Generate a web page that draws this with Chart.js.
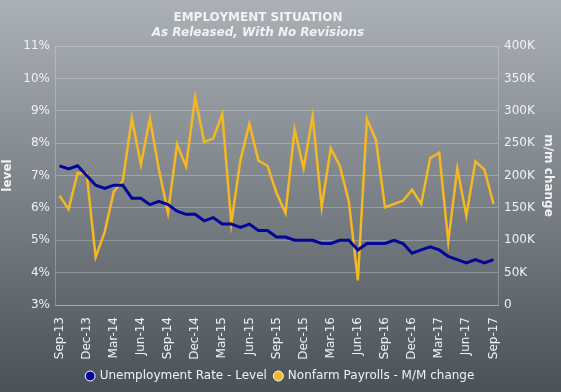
<!DOCTYPE html>
<html>
<head>
<meta charset="utf-8">
<script src="https://cdn.jsdelivr.net/npm/chart.js@4/dist/chart.umd.min.js"></script>
<style>
  html, body { margin: 0; padding: 0; }
  body { width: 561px; height: 392px; background: linear-gradient(#abb1b7, #4a5157); overflow: hidden; }
  canvas { display: block; }
</style>
</head>
<body>
<canvas id="c" width="561" height="392"></canvas>
<script>
const categories = [
  'Sep-13','Oct-13','Nov-13','Dec-13','Jan-14','Feb-14','Mar-14','Apr-14','May-14','Jun-14','Jul-14','Aug-14',
  'Sep-14','Oct-14','Nov-14','Dec-14','Jan-15','Feb-15','Mar-15','Apr-15','May-15','Jun-15','Jul-15','Aug-15',
  'Sep-15','Oct-15','Nov-15','Dec-15','Jan-16','Feb-16','Mar-16','Apr-16','May-16','Jun-16','Jul-16','Aug-16',
  'Sep-16','Oct-16','Nov-16','Dec-16','Jan-17','Feb-17','Mar-17','Apr-17','May-17','Jun-17','Jul-17','Aug-17',
  'Sep-17'
];
const unemploymentRate = [
  7.3, 7.2, 7.3, 7.0, 6.7, 6.6, 6.7, 6.7, 6.3, 6.3, 6.1, 6.2,
  6.1, 5.9, 5.8, 5.8, 5.6, 5.7, 5.5, 5.5, 5.4, 5.5, 5.3, 5.3,
  5.1, 5.1, 5.0, 5.0, 5.0, 4.9, 4.9, 5.0, 5.0, 4.7, 4.9, 4.9,
  4.9, 5.0, 4.9, 4.6, 4.7, 4.8, 4.7, 4.5, 4.4, 4.3, 4.4, 4.3,
  4.4
];
const nonfarmPayrolls = [
  169, 148, 204, 203, 74, 113, 175, 192, 288, 217, 288, 209,
  142, 248, 214, 321, 252, 257, 295, 126, 223, 280, 223, 215,
  173, 142, 271, 211, 292, 151, 242, 215, 160, 38, 287, 255,
  151, 156, 161, 178, 156, 227, 235, 98, 211, 138, 222, 209,
  156
];
const xTickLabels = [
  'Sep-13','Dec-13','Mar-14','Jun-14','Sep-14','Dec-14','Mar-15','Jun-15','Sep-15',
  'Dec-15','Mar-16','Jun-16','Sep-16','Dec-16','Mar-17','Jun-17','Sep-17'
];
const leftTicks = [3, 4, 5, 6, 7, 8, 9, 10, 11];
const rightTicks = [0, 50, 100, 150, 200, 250, 300, 350, 400];
const titleText = 'EMPLOYMENT SITUATION';
const subtitleText = 'As Released, With No Revisions';

const TXT = '#f2f2f2';
const GRID = 'rgba(255,255,255,0.25)';
const FONT = 'DejaVu Sans';

const titlePlugin = {
  id: 'titles',
  afterDraw(chart) {
    const ctx = chart.ctx;
    ctx.save();
    ctx.fillStyle = TXT;
    ctx.textAlign = 'center';
    ctx.textBaseline = 'middle';
    ctx.font = 'bold 12px ' + FONT;
    ctx.fillText(titleText, 258, 18);
    ctx.font = 'italic bold 12px ' + FONT;
    ctx.fillText(subtitleText, 258, 33);
    ctx.restore();
  }
};

new Chart(document.getElementById('c'), {
  type: 'line',
  data: {
    labels: categories,
    datasets: [
      {
        label: 'Unemployment Rate - Level',
        data: unemploymentRate,
        yAxisID: 'y',
        borderColor: '#05059a',
        backgroundColor: '#05059a',
        borderWidth: 3,
        pointRadius: 0,
        tension: 0,
        order: 1
      },
      {
        label: 'Nonfarm Payrolls - M/M change',
        data: nonfarmPayrolls,
        yAxisID: 'y1',
        borderColor: '#f4b823',
        backgroundColor: '#f4b823',
        borderWidth: 2.5,
        pointRadius: 0,
        tension: 0,
        order: 2
      }
    ]
  },
  options: {
    responsive: false,
    animation: false,
    layout: { padding: { top: 46, left: 0, right: 0, bottom: 0 } },
    plugins: {
      legend: {
        position: 'bottom',
        labels: {
          color: TXT,
          font: { family: FONT, size: 12 },
          usePointStyle: true,
          pointStyle: 'circle',
          boxWidth: 7,
          boxHeight: 7,
          padding: 8,
          generateLabels(chart) {
            return chart.data.datasets.map((ds, i) => ({
              text: ds.label,
              fillStyle: ds.borderColor,
              strokeStyle: '#ffffff',
              lineWidth: 1,
              pointStyle: 'circle',
              fontColor: TXT,
              hidden: false,
              datasetIndex: i
            }));
          }
        }
      },
      tooltip: { enabled: false }
    },
    scales: {
      x: {
        offset: true,
        grid: { display: false },
        border: { display: true, color: GRID },
        ticks: {
          color: TXT,
          font: { family: FONT, size: 12 },
          autoSkip: false,
          minRotation: 90,
          maxRotation: 90,
          padding: 4,
          callback(v, i) { return xTickLabels.includes(categories[i]) ? categories[i] : ''; }
        },
        afterFit(s) { s.height = 57; }
      },
      y: {
        position: 'left',
        min: leftTicks[0],
        max: leftTicks[leftTicks.length - 1],
        afterBuildTicks(s) { s.ticks = leftTicks.map(v => ({ value: v })); },
        grid: { color: GRID, drawTicks: false },
        border: { display: true, color: GRID },
        ticks: {
          color: TXT,
          font: { family: FONT, size: 12 },
          padding: 5,
          callback(v) { return v + '%'; }
        },
        title: {
          display: true,
          text: 'level',
          color: TXT,
          font: { family: FONT, size: 12, weight: 'bold' },
          padding: { top: 1, bottom: 0 }
        },
        afterFit(s) { s.width = 55; }
      },
      y1: {
        position: 'right',
        min: 0,
        max: 400,
        afterBuildTicks(s) { s.ticks = rightTicks.map(v => ({ value: v })); },
        grid: { display: false, drawTicks: false },
        border: { display: true, color: GRID },
        ticks: {
          color: TXT,
          font: { family: FONT, size: 12 },
          padding: 6,
          callback(v) { return v === 0 ? '0' : v + 'K'; }
        },
        title: {
          display: true,
          text: 'm/m change',
          color: TXT,
          font: { family: FONT, size: 12, weight: 'bold' },
          padding: { top: 6, bottom: 0 }
        },
        afterFit(s) { s.width = 63; }
      }
    }
  },
  plugins: [titlePlugin]
});
</script>
</body>
</html>
